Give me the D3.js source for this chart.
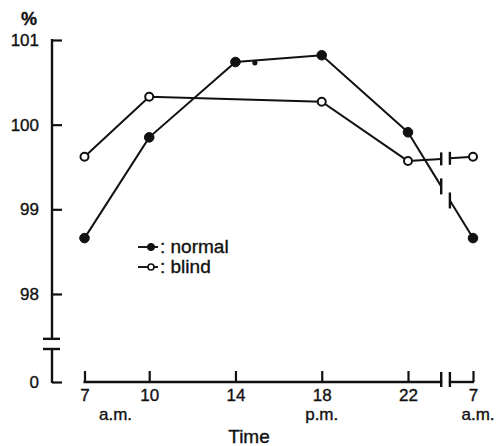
<!DOCTYPE html>
<html>
<head>
<meta charset="utf-8">
<script src="https://cdn.jsdelivr.net/npm/d3@7"></script>
<style>
  html, body { margin: 0; padding: 0; background: #fff; }
  svg { display: block; }
  text { font-family: "Liberation Sans", Arial, Helvetica, sans-serif; fill: #111; stroke: #111; stroke-width: 0.35px; }
</style>
</head>
<body>
<svg id="chart" width="498" height="446"></svg>
<script>
// Hour of day for each reading (31 = 7 a.m. of the following day)
const hours = [7, 10, 14, 18, 22, 31];
const hourLabels = ["7", "10", "14", "18", "22", "7"];
const periodLabels = ["a.m.", "", "", "p.m.", "", "a.m."];

// Relative values, %
const normalValues = [98.66, 99.85, 100.74, 100.82, 99.91, 98.66];
const blindHours = [7, 10, 18, 22, 31];
const blindValues = [99.62, 100.33, 100.27, 99.57, 99.62];
// stray small dot on the normal curve
const normalStray = [{ h: 14.9, v: 100.73 }];

const yTicks = [0, 98, 99, 100, 101];
const xBreak = [26.6, 27.8];      // hours where the time axis is cut
const yBreak = [97.35, 97.47];    // values where the % axis is cut

const svg = d3.select("#chart");
const ink = "#111";

const x = d3.scaleLinear().domain([7, 22, 31]).range([84.5, 408, 473]);
const y = d3.scaleLinear().domain([0, yBreak[0], 101]).range([382, 349, 40]);

// ---- y axis ----
const yAxis = d3.axisLeft(y).tickValues(yTicks).tickFormat(d3.format("d"))
  .tickSizeInner(-10).tickSizeOuter(0).tickPadding(13);
const gy = svg.append("g").attr("transform", "translate(52,0)").call(yAxis);
gy.select(".domain").remove();
gy.selectAll(".tick line").attr("stroke", ink).attr("stroke-width", 2.2);
gy.selectAll(".tick text").style("font-size", "17px").attr("fill", ink);
[[101, yBreak[1]], [yBreak[0], 0]].forEach(([a, b]) => {
  gy.append("line").attr("x1", 0).attr("x2", 0)
    .attr("y1", y(a) - 1).attr("y2", y(b) + 1)
    .attr("stroke", ink).attr("stroke-width", 2.4);
});
yBreak.forEach(v => {
  gy.append("line").attr("x1", -9).attr("x2", 8)
    .attr("y1", y(v)).attr("y2", y(v))
    .attr("stroke", ink).attr("stroke-width", 2.4);
});
svg.append("text").attr("x", 29).attr("y", 25).attr("text-anchor", "middle")
  .style("font-size", "18px").style("font-weight", "bold").text("%");

// ---- x axis ----
const baseY = y(0);
const xAxis = d3.axisBottom(x).tickValues(hours)
  .tickFormat((d, i) => hourLabels[i])
  .tickSizeInner(-11).tickSizeOuter(0).tickPadding(7);
const gx = svg.append("g").attr("transform", `translate(0,${baseY})`).call(xAxis);
gx.select(".domain").remove();
gx.selectAll(".tick line").attr("stroke", ink).attr("stroke-width", 2.2);
gx.selectAll(".tick text").style("font-size", "17px").attr("fill", ink);
[[7, xBreak[0]], [xBreak[1], 31]].forEach(([a, b]) => {
  gx.append("line").attr("x1", x(a) - 1).attr("x2", x(b) + 1)
    .attr("y1", 0).attr("y2", 0).attr("stroke", ink).attr("stroke-width", 2.4);
});
xBreak.forEach(h => {
  gx.append("line").attr("x1", x(h)).attr("x2", x(h))
    .attr("y1", -10).attr("y2", 5).attr("stroke", ink).attr("stroke-width", 2.4);
});
periodLabels.forEach((t, i) => {
  if (!t) return;
  const dx = i === 0 ? 31 : (i === hours.length - 1 ? 5 : 0);
  gx.append("text").attr("x", x(hours[i]) + dx).attr("y", 38)
    .attr("text-anchor", "middle").style("font-size", "17px").text(t);
});
svg.append("text").attr("x", 249).attr("y", 443).attr("text-anchor", "middle")
  .style("font-size", "19px").text("Time");

// ---- series ----
function drawSeries(hs, vs, filled) {
  const pts = hs.map((h, i) => ({ h, v: vs[i] }));
  const before = pts.filter(p => p.h <= 22);
  const last = pts[pts.length - 1];
  const p22 = before[before.length - 1];
  const lerp = h => p22.v + (last.v - p22.v) * (h - p22.h) / (last.h - p22.h);
  const line = d3.line().x(d => x(d.h)).y(d => y(d.v));
  const g = svg.append("g");
  g.append("path").attr("d", line(before)).attr("fill", "none")
    .attr("stroke", ink).attr("stroke-width", 2);
  // segment across the time-axis cut
  g.append("path").attr("d", line([p22, { h: xBreak[0], v: lerp(xBreak[0]) }]))
    .attr("fill", "none").attr("stroke", ink).attr("stroke-width", 2);
  g.append("path").attr("d", line([{ h: xBreak[1], v: lerp(xBreak[1]) }, last]))
    .attr("fill", "none").attr("stroke", ink).attr("stroke-width", 2);
  const half = filled ? 8 : 6.5;
  xBreak.forEach(h => {
    const cy = y(lerp(h));
    g.append("line").attr("x1", x(h)).attr("x2", x(h))
      .attr("y1", cy - half).attr("y2", cy + half)
      .attr("stroke", ink).attr("stroke-width", 2.4);
  });
  g.selectAll("circle").data(pts).join("circle")
    .attr("cx", d => x(d.h)).attr("cy", d => y(d.v))
    .attr("r", filled ? 4.8 : 4)
    .attr("fill", filled ? ink : "#fff")
    .attr("stroke", ink).attr("stroke-width", filled ? 1 : 2);
}
drawSeries(hours, normalValues, true);
drawSeries(blindHours, blindValues, false);
svg.append("g").selectAll("circle").data(normalStray).join("circle")
  .attr("cx", d => x(d.h)).attr("cy", d => y(d.v)).attr("r", 2.6).attr("fill", ink);

// ---- legend ----
const legend = [
  { label: "normal", filled: true },
  { label: "blind", filled: false }
];
const lg = svg.append("g").attr("transform", "translate(138,247)");
legend.forEach((d, i) => {
  const row = lg.append("g").attr("transform", `translate(0,${i * 20})`);
  row.append("line").attr("x1", 0).attr("x2", 20).attr("y1", 0).attr("y2", 0)
    .attr("stroke", ink).attr("stroke-width", 1.9);
  row.append("circle").attr("cx", 13).attr("cy", 0).attr("r", d.filled ? 3.6 : 3)
    .attr("fill", d.filled ? ink : "#fff").attr("stroke", ink)
    .attr("stroke-width", d.filled ? 1 : 1.6);
  row.append("text").attr("x", 22).attr("y", 6).style("font-size", "19px")
    .text(": " + d.label);
});
</script>
</body>
</html>
